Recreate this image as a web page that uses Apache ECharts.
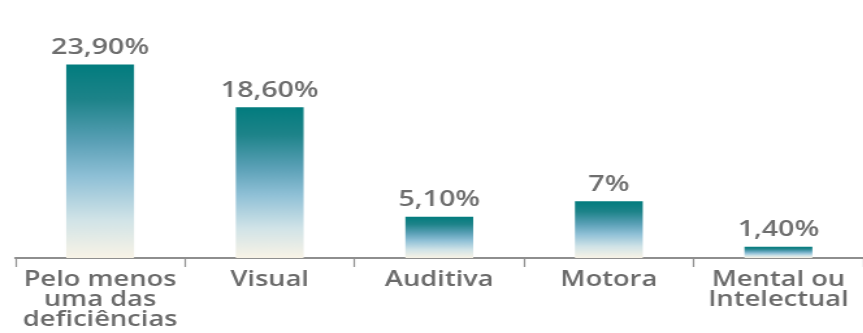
<!DOCTYPE html>
<html>
<head>
<meta charset="utf-8">
<script src="https://cdn.jsdelivr.net/npm/echarts@6/dist/echarts.min.js"></script>
<style>
  html, body { margin: 0; padding: 0; background: #fff; overflow: hidden; }
  #wrap { width: 863px; height: 333px; overflow: hidden; }
  /* the layout uses a wide, horizontally expanded typeface look */
  #chart { width: 664px; height: 333px; transform: scaleX(1.3); transform-origin: 0 0; }
</style>
</head>
<body>
<div id="wrap"><div id="chart"></div></div>
<script>
// Tipos de deficiência (categorias do eixo)
const categories = [
  'Pelo menos\numa das\ndeficiências',
  'Visual',
  'Auditiva',
  'Motora',
  'Mental ou\nIntelectual'
];
// Percentual da população (%)
const values = [23.9, 18.6, 5.1, 7, 1.4];

// "23,90%" style, whole numbers shown without decimals ("7%")
function formatPct(v) {
  return (Number.isInteger(v) ? String(v) : v.toFixed(2).replace('.', ',')) + '%';
}

const chart = echarts.init(document.getElementById('chart'), null, { renderer: 'canvas' });

const barGradient = new echarts.graphic.LinearGradient(0, 0, 0, 1, [
  { offset: 0.00, color: '#027c7e' },
  { offset: 0.18, color: '#1d8389' },
  { offset: 0.40, color: '#5aa0b6' },
  { offset: 0.58, color: '#8fc0d6' },
  { offset: 0.80, color: '#d0e3e7' },
  { offset: 1.00, color: '#f8f3e6' }
]);

chart.setOption({
  animation: false,
  backgroundColor: '#ffffff',
  grid: { left: 11.8, right: 0, top: 15, bottom: 75, containLabel: false },
  xAxis: {
    type: 'category',
    data: categories,
    boundaryGap: true,
    axisLine: { show: true, lineStyle: { color: '#8e8e8e', width: 2 } },
    axisTick: { show: true, length: 9, lineStyle: { color: '#8e8e8e', width: 1.2 } },
    axisLabel: {
      interval: 0,
      margin: 12,
      color: '#6b6b6b',
      fontFamily: 'Open Sans',
      fontSize: 21,
      fontWeight: 600,
      lineHeight: 20,
      align: 'center'
    }
  },
  yAxis: {
    type: 'value',
    min: 0,
    max: 30,
    show: false,
    splitLine: { show: false }
  },
  series: [{
    type: 'bar',
    data: values,
    barWidth: '40%',
    itemStyle: { color: barGradient },
    label: {
      show: true,
      position: 'top',
      distance: 6,
      color: '#6e6e6e',
      fontFamily: 'Open Sans',
      fontSize: 22,
      fontWeight: 600,
      formatter: p => formatPct(p.value)
    }
  }]
});
</script>
</body>
</html>
